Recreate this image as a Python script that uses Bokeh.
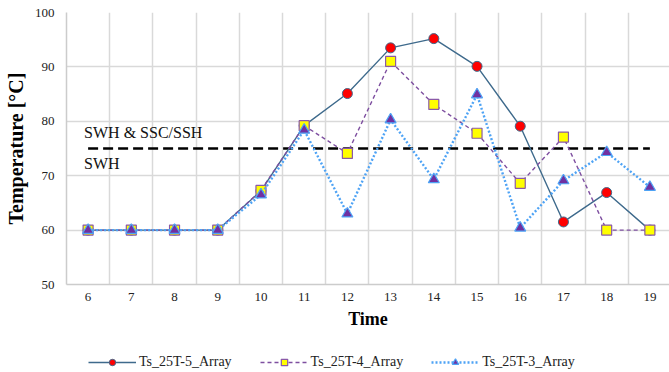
from bokeh.plotting import figure
from bokeh.layouts import column
from bokeh.models import (Range1d, FixedTicker, Legend, LegendItem, Label)
from bokeh.embed import file_html
from bokeh.resources import INLINE

times = [6, 7, 8, 9, 10, 11, 12, 13, 14, 15, 16, 17, 18, 19]
ts_25t_5 = [60, 60, 60, 60, 67.2, 79.2, 85.1, 93.5, 95.2, 90.1, 79.1, 61.5, 66.9, 60.0]
ts_25t_4 = [60, 60, 60, 60, 67.3, 79.2, 74.1, 91.0, 83.1, 77.8, 68.6, 77.1, 60.0, 60.0]
ts_25t_3 = [60, 60, 60, 60, 66.5, 78.4, 63.0, 80.3, 69.3, 84.9, 60.4, 69.1, 74.3, 67.9]
threshold = 75
y_ticks = [50, 60, 70, 80, 90, 100]
series_names = ["Ts_25T-5_Array", "Ts_25T-4_Array", "Ts_25T-3_Array"]
upper_text = "SWH & SSC/SSH"
lower_text = "SWH"

FONT = "Liberation Serif"

STYLES = [
    dict(line=dict(line_color="#3e6a8c", line_width=1.4),
         mark=dict(marker="circle", size=10, fill_color="#ff0000",
                   line_color="#3e6a8c", line_width=1)),
    dict(line=dict(line_color="#7e4fa0", line_width=1.4, line_dash="4 3"),
         mark=dict(marker="square", size=10, fill_color="#ffff00",
                   line_color="#8a5aa8", line_width=1.2)),
    dict(line=dict(line_color="#4ea3f5", line_width=2.4, line_dash="2 2"),
         mark=dict(marker="triangle", size=11, fill_color="#7030a0",
                   line_color="#4ea3f5", line_width=1.2)),
]
SERIES = [ts_25t_5, ts_25t_4, ts_25t_3]

p = figure(width=669, height=340, output_backend="svg", toolbar_location=None,
           min_border_left=66, min_border_right=0, min_border_top=12, min_border_bottom=56,
           x_range=Range1d(5.5, 19.454), y_range=Range1d(50, 100))
p.outline_line_color = None
p.background_fill_color = "white"

# grid
p.xgrid.ticker = FixedTicker(ticks=[t - 0.5 for t in times] + [times[-1] + 0.5])
p.xgrid.grid_line_color = "#d9d9d9"
p.xgrid.grid_line_width = 1.5
p.ygrid.ticker = FixedTicker(ticks=y_ticks)
p.ygrid.grid_line_color = "#d9d9d9"
p.ygrid.grid_line_width = 1.5

# axes
p.xaxis.ticker = FixedTicker(ticks=times)
p.yaxis.ticker = FixedTicker(ticks=y_ticks)
for ax in (p.xaxis[0], p.yaxis[0]):
    ax.major_tick_out = 0
    ax.major_tick_in = 0
    ax.minor_tick_out = 0
    ax.minor_tick_in = 0
    ax.major_label_text_font = FONT
    ax.major_label_text_font_size = "13px"
    ax.major_label_text_color = "#222222"
    ax.axis_label_text_font = FONT
    ax.axis_label_text_font_style = "bold"
    ax.axis_label_text_color = "#000000"
    ax.axis_line_color = "#cccccc"
    ax.axis_line_width = 1.5
p.yaxis.axis_label = "Temperature [°C]"
p.yaxis.axis_label_text_font_size = "20px"
p.yaxis.major_label_standoff = 12
p.yaxis.axis_label_standoff = 5
p.xaxis.axis_label = "Time"
p.xaxis.axis_label_text_font_size = "18px"
p.xaxis.major_label_standoff = 8
p.xaxis.axis_label_standoff = 5

# threshold line
p.line(x=[times[0], times[-1]], y=[threshold, threshold], line_color="black",
       line_width=2.5, line_dash="10 5")
p.add_layout(Label(x=times[0], y=threshold + 2.9, x_offset=-4, text=upper_text,
                   text_font=FONT, text_font_size="16px", text_baseline="middle",
                   text_color="#111111"))
p.add_layout(Label(x=times[0], y=threshold - 2.8, x_offset=-4, text=lower_text,
                   text_font=FONT, text_font_size="16px", text_baseline="middle",
                   text_color="#111111"))

# series
for data, st in zip(SERIES, STYLES):
    p.line(times, data, **st["line"])
    p.scatter(times, data, **st["mark"])

# legend strip below the chart (its own renderers lie outside its visible range)
lf = figure(width=669, height=32, output_backend="svg", toolbar_location=None,
            min_border=0, x_axis_type=None, y_axis_type=None,
            x_range=Range1d(-10, -9), y_range=Range1d(50, 100))
lf.outline_line_color = None
items = []
for name, data, st in zip(series_names, SERIES, STYLES):
    r1 = lf.line(times, data, **st["line"])
    r2 = lf.scatter(times, data, **st["mark"])
    items.append(LegendItem(label=name, renderers=[r1, r2]))

legend = Legend(items=items, orientation="horizontal", location=(22, 2),
                glyph_width=48, glyph_height=16, label_standoff=3, spacing=28,
                padding=2, margin=0, border_line_color=None,
                background_fill_alpha=0,
                label_text_font=FONT, label_text_font_size="14px",
                label_text_color="#222222")
lf.add_layout(legend, "center")

open("out.html", "w").write(file_html(column(p, lf, spacing=0), INLINE))
